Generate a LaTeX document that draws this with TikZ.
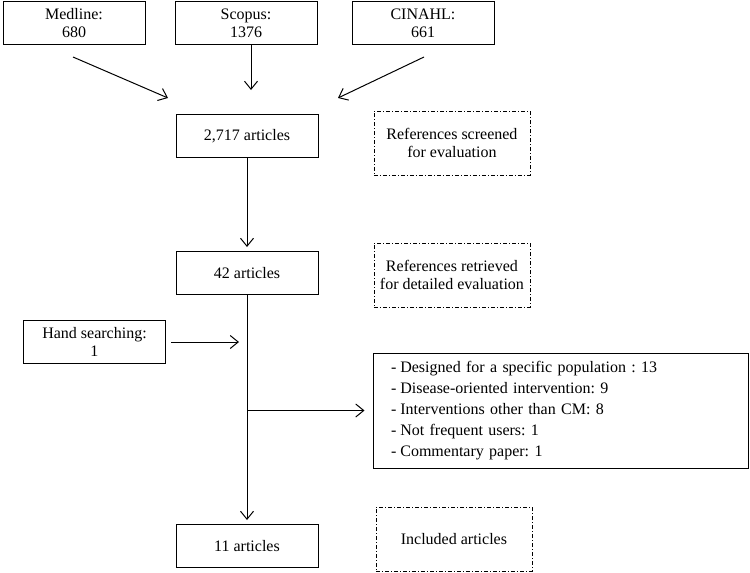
\documentclass[tikz,border=0pt]{standalone}
\usepackage{fontspec}
\setmainfont{Liberation Serif}
\frenchspacing
\usetikzlibrary{
  	positioning,
  	arrows.meta,
  	calc
  }

\tikzset{
  box/.style={draw, line width=1pt, minimum width=142pt, minimum height=43pt, align=center, inner sep=2pt},
  notebox/.style={draw, line width=.9pt, dash pattern=on 4pt off 2pt on 1pt off 2pt, minimum width=156pt, minimum height=64pt, align=center},
  flow/.style={line width=1pt, -{Straight Barb[length=8pt,width=13pt]}}
}

\begin{document}
\begin{tikzpicture}[x=1pt, y=-1pt, font=\fontsize{16}{18}\selectfont]
	\useasboundingbox (0,0) rectangle (750,573);
	\node[box] (scopus) at (246,23) {Scopus:\\1376};
	\node[box, left=29pt of scopus] (medline) {Medline:\\680};
	\node[box, right=34pt of scopus] (cinahl) {CINAHL:\\661};
%
	\node[box] (total) at (247,136) {2,717 articles};
	\node[box, below=93pt of total] (retrieved) {42 articles};
	\node[box, below=229pt of retrieved] (included) {11 articles};
	\node[box] (hand) at (94.5,342) {Hand searching:\\1};
%
	\node[notebox, right=55pt of total, yshift=-7pt] (screenednote) {References screened\\for evaluation};
	\node[notebox, right=55pt of retrieved, yshift=-2pt] (retrievednote) {References retrieved\\for detailed evaluation};
	\node[notebox, right=57pt of included, yshift=7pt] (includednote) {Included articles};
	\node[draw, line width=1pt, minimum width=375pt, minimum height=115pt, text width=339pt, inner xsep=18pt, align=left, font=\fontsize{16}{21}\selectfont] (excluded) at (560.5,410.5)
		{-\hspace{4pt}Designed for a specific population : 13\\-\hspace{4pt}Disease-oriented intervention: 9\\-\hspace{4pt}Interventions other than CM: 8\\-\hspace{4pt}Not frequent users: 1\\-\hspace{4pt}Commentary paper: 1};
%
	\coordinate (medline out) at ($(medline.south)+(-1,12)$);
	\coordinate (medline in) at ($(total.north)+(-79,-16)$);
	\coordinate (scopus out) at ($(scopus.south)+(5,0)$);
	\coordinate (scopus in) at ($(scopus.south)+(5,45)$);
	\coordinate (cinahl out) at ($(cinahl.south)+(1,12)$);
	\coordinate (cinahl in) at ($(total.north)+(91,-16)$);
	\coordinate (split) at (retrieved.south |- excluded.west);
%
	\draw[flow] (medline out) -- (medline in);
	\draw[flow] (scopus out) -- (scopus in);
	\draw[flow] (cinahl out) -- (cinahl in);
	\draw[flow, shorten >=4pt] (total) -- (retrieved);
	\draw[flow, shorten >=4pt] (retrieved) -- (included);
	\draw[flow, shorten <=5pt, shorten >=8pt] (hand.east) -- (hand.east -| retrieved.south);
	\draw[flow, shorten >=8pt] (split) -- (excluded.west);
\end{tikzpicture}
\end{document}
